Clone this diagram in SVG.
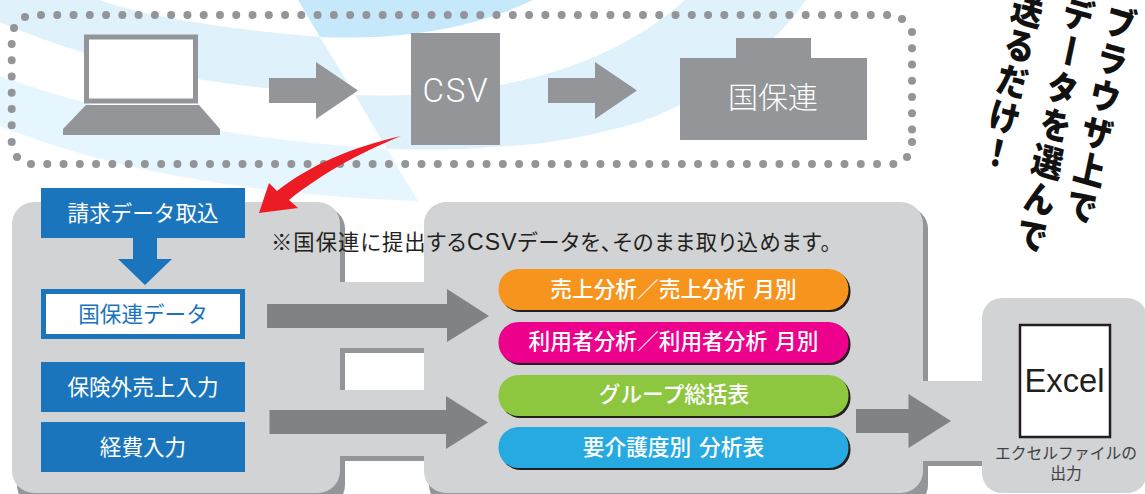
<svg xmlns="http://www.w3.org/2000/svg" width="1145" height="494" viewBox="0 0 1145 494">
<style>
text{font-family:"Noto Sans CJK JP","Noto Sans",sans-serif}
.latin{font-family:"Liberation Sans",Arial,sans-serif}
.g{fill:#939598}
.p{fill:#d1d3d4}
.d{fill:#808285}
.blue{fill:#1b75bc}
.dots{fill:none;stroke:#939598;stroke-width:8;stroke-linecap:round;stroke-dasharray:0 16.27}
.w{fill:#fff;text-anchor:middle}
.bt{font-size:21.6px}
.pt{font-size:21.7px;font-weight:500;word-spacing:3px}
.sh{fill:#231f20}
.head{font-size:36px;font-weight:900;writing-mode:vertical-rl;letter-spacing:1.5px;fill:#111}
</style>
<g id="background">
<path d="M0,0H99C150,18 235,30 320,37L355,95C210,88 100,65 0,22Z" fill="#dff1fb"/>
<path d="M355,95C420,97 460,92 500,85C570,72 635,45 685,0H806C765,60 690,105 640,122C590,137 540,145 500,146.5C460,150 425,150 387,149Z" fill="#dff1fb"/>
<path d="M0,76C100,112 220,138 387,149L418,201C250,195 110,170 0,126Z" fill="#e5f6fe"/>
<path d="M298,0L320,37C400,40 470,30 533,0Z" fill="#c5e9fa"/>
</g>
<g id="dotted-frame">
<path class="dots" d="M41,15H888M31,164H894M11.7,44V127M912,32V130"/>
<g class="g"><circle cx="25" cy="17" r="4"/><circle cx="14" cy="28" r="4"/><circle cx="11.7" cy="142" r="4"/><circle cx="17" cy="157" r="4"/><circle cx="902" cy="19" r="4"/><circle cx="912" cy="142" r="4"/><circle cx="907" cy="157" r="4"/></g>
</g>
<g id="laptop">
<rect x="86.5" y="37" width="109" height="64" fill="#fff" stroke="#939598" stroke-width="5"/>
<path class="g" d="M86,105H199L220,129V135H63V129Z"/>
</g>
<g id="csv"><rect class="g" x="411" y="33" width="89" height="112"/><text class="w" style="font-family:Roboto,'Liberation Sans',sans-serif;font-weight:300" x="455" y="102" font-size="33" textLength="65">CSV</text></g>
<g id="kokuhoren"><path class="g" d="M736,38H811V58H867V140H680V58H736Z"/><text class="w" style="font-weight:300" x="773" y="108" font-size="30">国保連</text></g>
<g id="panels">
<rect class="g" x="17" y="207" width="328" height="300" rx="22"/>
<rect class="g" x="429" y="207" width="499" height="300" rx="22"/>
<rect class="g" x="340" y="348" width="90" height="5"/>
<rect class="g" x="340" y="353" width="5" height="37"/>
<rect class="g" x="340" y="456" width="90" height="5"/>
<rect x="345" y="353" width="79" height="37" fill="#fff"/>
<rect x="345" y="461" width="79" height="33" fill="#fff"/>
<rect class="g" x="920" y="461" width="70" height="5"/>
<rect class="p" x="340" y="282" width="90" height="66"/>
<rect class="p" x="340" y="390" width="90" height="66"/>
<rect class="p" x="915" y="381" width="70" height="80"/>
<rect class="p" x="12" y="202" width="328" height="291" rx="22"/>
<rect class="p" x="424" y="202" width="499" height="291" rx="22"/>
<rect class="p" x="982" y="298" width="165" height="195" rx="20"/>
</g>
<g id="connectors">
<path class="g" d="M269,78H316V62L358,90.500L316,119V103H269Z"/>
<path class="g" d="M548,78H595V62L637,90.500L595,119V103H548Z"/>
<path fill="#1b75bc" d="M133,238H157V259H172L145,285L118,259H133Z"/>
<path class="d" d="M267,304H447V289L489,316L447,342V328H267Z"/>
<path class="d" d="M269.500,410H446V396L488,422.500L446,449V434H269.500Z"/>
<path class="d" d="M856,409H908.500V394L951,421L908.500,448V433H856Z"/>
<path fill="#ed1c24" d="M401,136C350,148 310,165 277,191L269,183L259,213L298,208L289,200C320,175 355,155 401,136Z"/>
</g>
<g id="seikyu"><rect class="blue" x="41" y="188" width="204" height="50"/><text class="w bt" x="143" y="221">請求データ取込</text></g>
<g id="kokuhoren-data"><rect x="43.500" y="291.500" width="199" height="45" fill="#fff" stroke="#1b75bc" stroke-width="5"/><text class="bt" x="143" y="322" text-anchor="middle" fill="#1b75bc">国保連データ</text></g>
<g id="hokengai"><rect class="blue" x="41" y="362" width="204" height="50"/><text class="w bt" x="143" y="395">保険外売上入力</text></g>
<g id="keihi"><rect class="blue" x="41" y="422" width="204" height="50"/><text class="w bt" x="143" y="455">経費入力</text></g>
<text id="note" x="271" y="250" font-size="21.300" fill="#231f20" style="font-feature-settings:'palt'" textLength="560">※国保連に提出する<tspan class="latin" font-size="23">CSV</tspan>データを、そのまま取り込めます。</text>
<g id="pill-1"><rect class="sh" x="500.500" y="271" width="350" height="41" rx="20"/><rect x="498.500" y="269" width="350" height="41" rx="20" fill="#f7941d"/><text class="w pt" x="673.500" y="297">売上分析／売上分析 月別</text></g>
<g id="pill-2"><rect class="sh" x="500.500" y="324" width="350" height="41" rx="20"/><rect x="498.500" y="322" width="350" height="41" rx="20" fill="#ec008c"/><text class="w pt" x="673.500" y="349">利用者分析／利用者分析 月別</text></g>
<g id="pill-3"><rect class="sh" x="500.500" y="377" width="350" height="41" rx="20"/><rect x="498.500" y="375" width="350" height="41" rx="20" fill="#8dc63f"/><text class="w pt" x="674" y="402">グループ総括表</text></g>
<g id="pill-4"><rect class="sh" x="500.500" y="429" width="350" height="41" rx="20"/><rect x="498.500" y="427" width="350" height="41" rx="20" fill="#27aae1"/><text class="w pt" x="673.500" y="455">要介護度別 分析表</text></g>
<g id="excel">
<rect x="1020" y="325" width="90" height="112" fill="#fff" stroke="#231f20" stroke-width="2.500"/>
<text class="latin" x="1064.500" y="392" font-size="32.700" text-anchor="middle" fill="#231f20">Excel</text>
<text font-size="15.800" text-anchor="middle" fill="#414042"><tspan x="1066" y="459">エクセルファイルの</tspan><tspan x="1066" y="479">出力</tspan></text>
</g>
<g id="headline">
<text class="head" transform="matrix(.85,.24,-.205,.98,1124,5)">ブラウザ上で</text>
<text class="head" transform="matrix(.85,.24,-.205,.98,1082,-3)">データを選んで</text>
<text class="head" style="letter-spacing:.5px" transform="matrix(.85,.24,-.205,.98,1031,-8)">送るだけ！</text>
</g>
</svg>
